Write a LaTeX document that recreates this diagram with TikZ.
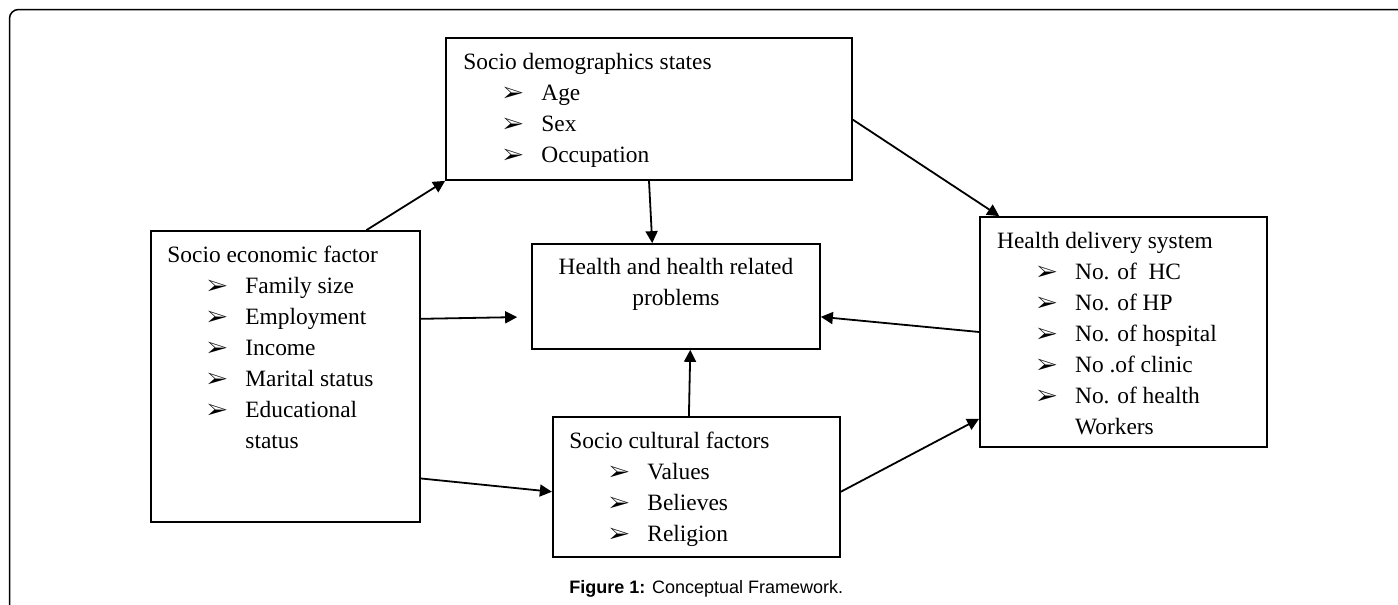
\documentclass[tikz,border=0pt]{standalone}
\usepackage{fontspec}
\setmainfont{Liberation Serif}
\newfontfamily\capfont{Liberation Sans}
\usepackage{pifont}
\usepackage{tikz}
\usetikzlibrary{arrows.meta}

\newcommand{\bxfont}{\fontsize{11.7}{15.5}\selectfont}
\newcommand{\itm}[1]{\hspace*{20pt}\makebox[19pt][l]{\fontsize{11}{11}\selectfont\ding{226}}#1}
\newcommand{\cont}[1]{\hspace*{39pt}#1}

\begin{document}
\begin{tikzpicture}[x=0.5pt,y=0.5pt]
    \tikzstyle{every node}+=[inner sep=0pt]
    \tikzstyle{box}=[draw, black, line width=0.85pt]
    \tikzstyle{txt}=[anchor=north west, align=left, font=\bxfont]
    \tikzstyle{arr}=[black, line width=0.9pt, -{Triangle[length=6pt,width=6pt]}]
    \useasboundingbox (0,0) rectangle (1398,-605);
    \draw [black, line width=0.75pt, rounded corners=4.5pt] (9.5,-605) -- (9.5,-9.5) -- (1398,-9.5);
    \node (demo) [box, minimum width=203pt, minimum height=71pt] at (649,-109) {};
    \node (econ) [box, minimum width=134.65pt, minimum height=145.35pt] at (285.35,-376.35) {};
    \node (prob) [box, minimum width=144pt, minimum height=52.5pt] at (676,-296.5) {};
    \node (cult) [box, minimum width=143.65pt, minimum height=70pt] at (696.35,-486.7) {};
    \node (hds) [box, minimum width=143.5pt, minimum height=115pt] at (1123.5,-332) {};
    \node (demo-t) [txt] at (463,-47.3) {\strut Socio demographics states\\ \itm{Age}\\ \itm{Sex}\\ \itm{Occupation}};
    \node (econ-t) [txt] at (167,-240.3) {\strut Socio economic factor\\ \itm{Family size}\\ \itm{Employment}\\ \itm{Income}\\ \itm{Marital status}\\ \itm{Educational}\\ \cont{status}};
    \node (prob-t) [anchor=north, align=center, font=\bxfont] at (676,-252.3) {\strut Health and health related\\ problems};
    \node (cult-t) [txt] at (569,-426) {\strut Socio cultural factors\\ \itm{Values}\\ \itm{Believes}\\ \itm{Religion}};
    \node (hds-t) [txt] at (996.7,-226.3) {\strut Health delivery system\\ \itm{No. of~ HC}\\ \itm{No. of HP}\\ \itm{No. of hospital}\\ \itm{No .of clinic}\\ \itm{No. of health}\\ \cont{Workers}};
    \node (cap) [anchor=base west, font=\capfont\fontsize{9}{11}\selectfont] at (569,-593.3) {\textbf{Figure 1:} Conceptual Framework.};
    \draw [arr] (econ.61.3) -- (demo.south west);
    \draw [arr] (demo.south) -- (prob.114.6);
    \draw [arr] (demo.-3.4) -- (hds.137);
    \draw [arr, shorten >=7pt] (econ.23.4) -- (prob.188.5);
    \draw [arr] (hds.180.8) -- (prob.-8.9);
    \draw [arr] (cult.96.8) -- (prob.-75.1);
    \draw [arr] (econ.-37.8) -- (cult.182.5);
    \draw [arr] (cult.-2.2) -- (hds.211);
\end{tikzpicture}
\end{document}
